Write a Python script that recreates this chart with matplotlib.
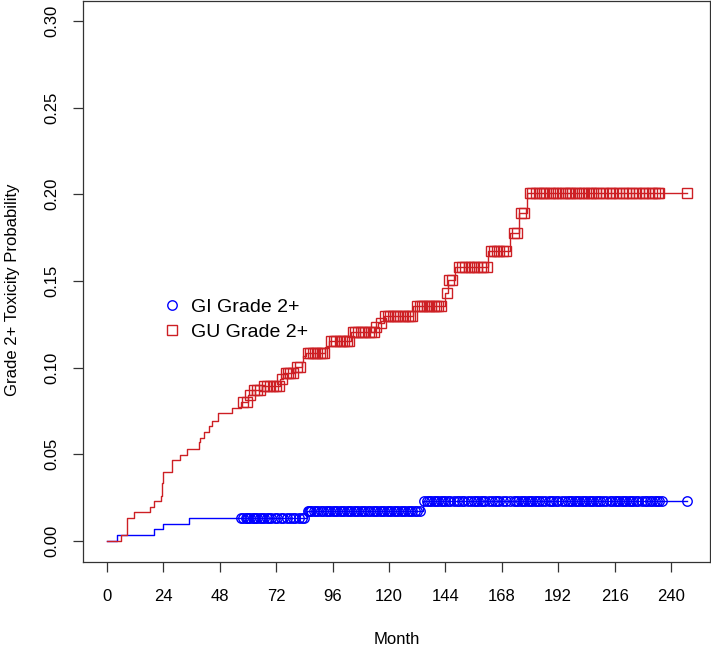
import numpy as np
import matplotlib.pyplot as plt

plt.rcParams['font.family'] = ['Liberation Sans', 'DejaVu Sans']

# GI grade 2+ : event times (month) and cumulative incidence after each step
gi_event_month = [0, 4.4, 20.1, 23.7, 34.8, 85.0, 134.3]
gi_cuminc = [0, 0.0035, 0.0067, 0.0098, 0.0135, 0.0173, 0.0231]
gi_censor_month = [
    57, 58, 59, 59.5, 60, 61, 62, 62.5, 63, 64, 65, 66, 67, 68, 69, 70, 71.5, 72.5,
    74, 75, 76.5, 78, 79, 80, 81.5, 83, 84,
    85.5, 86, 86.5, 87, 88, 89, 90, 91, 92, 93, 94, 95, 96, 97, 98, 99, 100, 101,
    102, 103, 104, 105, 106, 107, 108, 109, 110, 111, 112, 113, 114, 115, 116, 117,
    118, 119, 120, 121, 122, 123, 124, 125, 126, 127, 128, 129, 130, 131, 132, 133,
    135, 136, 137, 138, 139, 140, 141, 142, 143, 144, 145, 146, 147.5, 149, 150, 151,
    152, 153.5, 155, 156, 157, 158, 159, 160, 161, 162.5, 164, 165, 166, 167, 168.5,
    170, 171.5, 173, 174, 175, 176, 177, 178, 179, 180, 181, 182, 183, 184, 185,
    186.5, 188, 189, 190, 191, 192, 193.5, 195, 196, 197, 198, 199, 200, 201, 202,
    203, 204, 205, 206, 207, 208, 209, 210, 211, 212.5, 214, 215, 216, 217, 218, 219,
    220, 221, 222, 223, 224, 225, 226, 227.5, 229, 230, 231, 232, 233, 234, 235, 236,
    247,
]

# GU grade 2+
gu_event_month = [0, 5.8, 8.7, 11.6, 18.3, 20.0, 22.8, 23.4, 23.7, 27.5, 31.1, 33.9,
                  39.3, 39.6, 41.1, 43.5, 44.5, 47.4, 53.2, 57.0, 60.1, 61.6, 65.8,
                  73.6, 75.0, 80.0, 82.8, 83.5, 84.7, 92.8, 94.6, 103.7, 114.0, 115.5,
                  117.9, 130.1, 143.8, 145.1, 148.1, 162.1, 171.5, 175.3, 178.7]
gu_cuminc = [0, 0.0035, 0.0135, 0.0165, 0.0198, 0.0231, 0.0261, 0.0333, 0.040, 0.0466,
             0.0496, 0.0531, 0.0569, 0.0596, 0.063, 0.0664, 0.0694, 0.0737, 0.0767,
             0.0804, 0.0842, 0.0871, 0.0894, 0.0933, 0.0971, 0.1002, 0.1035, 0.1067,
             0.1083, 0.112, 0.1156, 0.1204, 0.1237, 0.1256, 0.1298, 0.1358, 0.143,
             0.1506, 0.158, 0.1672, 0.1776, 0.189, 0.2006]
gu_censor_month = [
    58, 59.5, 61, 62.5, 64, 65, 67, 68, 69.5, 70.5, 72, 73, 74.5, 76, 77, 78, 79,
    81, 82, 85.5, 86.5, 87.5, 88.5, 89.5, 90.5, 91.5, 92.5, 95.5, 96.5, 97.5, 99, 100,
    101, 102, 103, 104.5, 105.5, 107, 108, 109, 110, 111.5, 112.5, 113.5, 114.5, 116.5,
    118.5, 119.5, 120.5, 121.5, 122.5, 123.5, 124.5, 126, 127, 128, 129, 130,
    132, 133, 134, 135, 136, 137, 138, 139, 140, 141, 142, 144.5, 145.5, 147,
    150, 151, 152.5, 154, 155, 156, 157.5, 159, 160, 161.5, 163.5, 164.5, 166, 167,
    168.5, 170, 173, 174.5, 176, 177.5,
    180, 181, 182.5, 184, 185, 186, 187, 188.5, 190, 191, 192, 193.5, 195, 196, 197,
    198, 199.5, 201, 202, 203, 204.5, 206, 207, 208, 209.5, 211, 212.5, 214, 215,
    216.5, 218, 219.5, 221, 222, 223.5, 225, 226.5, 228, 229, 230.5, 232, 233, 234.5,
    235, 247,
]

x_ticks = [0, 24, 48, 72, 96, 120, 144, 168, 192, 216, 240]
y_ticks = [0.00, 0.05, 0.10, 0.15, 0.20, 0.25, 0.30]


def draw_curve(ax, t, p, cens, color, marker, label):
    t = np.asarray(t, dtype=float)
    p = np.asarray(p, dtype=float)
    cens = np.asarray(cens, dtype=float)
    tt = np.append(t, cens.max())
    pp = np.append(p, p[-1])
    ax.step(tt, pp, where='post', color=color, lw=1.0)
    cy = p[np.searchsorted(t, cens, side='right') - 1]
    ax.plot(cens, cy, ls='none', marker=marker, ms=6.8, mfc='none', mec=color,
            mew=1.0, label=label)


fig = plt.figure(figsize=(7.11, 6.46), dpi=100)
ax = fig.add_axes([83 / 711, 84 / 646, 627 / 711, 561 / 646])

draw_curve(ax, gi_event_month, gi_cuminc, gi_censor_month, '#0000FF', 'o', 'GI Grade 2+')
draw_curve(ax, gu_event_month, gu_cuminc, gu_censor_month, '#CD1F24', 's', 'GU Grade 2+')

ax.set_xlim(-10.2, 256.6)
ax.set_ylim(-0.0121, 0.3115)
for s in ax.spines.values():
    s.set_linewidth(0.9)
    s.set_color('#333333')

ax.set_xticks(x_ticks)
ax.set_yticks(y_ticks)
ax.set_yticklabels(['%.2f' % v for v in y_ticks], rotation=90, va='center')
ax.tick_params(axis='both', labelsize=12, length=7.2, width=0.9, color='#333333')
ax.tick_params(axis='x', pad=12)
ax.tick_params(axis='y', pad=9.5)

ax.set_xlabel('Month', fontsize=12)
ax.xaxis.set_label_coords(0.5, -0.124)
ax.set_ylabel('Grade 2+ Toxicity Probability', fontsize=12)
ax.yaxis.set_label_coords(-0.1005, 0.485)

ax.legend(loc='upper left', bbox_to_anchor=(162 / 711, 1 - 298 / 646),
          bbox_transform=fig.transFigure, frameon=False, fontsize=14,
          handlelength=1.0, handletextpad=0.5, borderpad=0, borderaxespad=0,
          labelspacing=0.4)

fig.savefig('out.png', dpi=100)
